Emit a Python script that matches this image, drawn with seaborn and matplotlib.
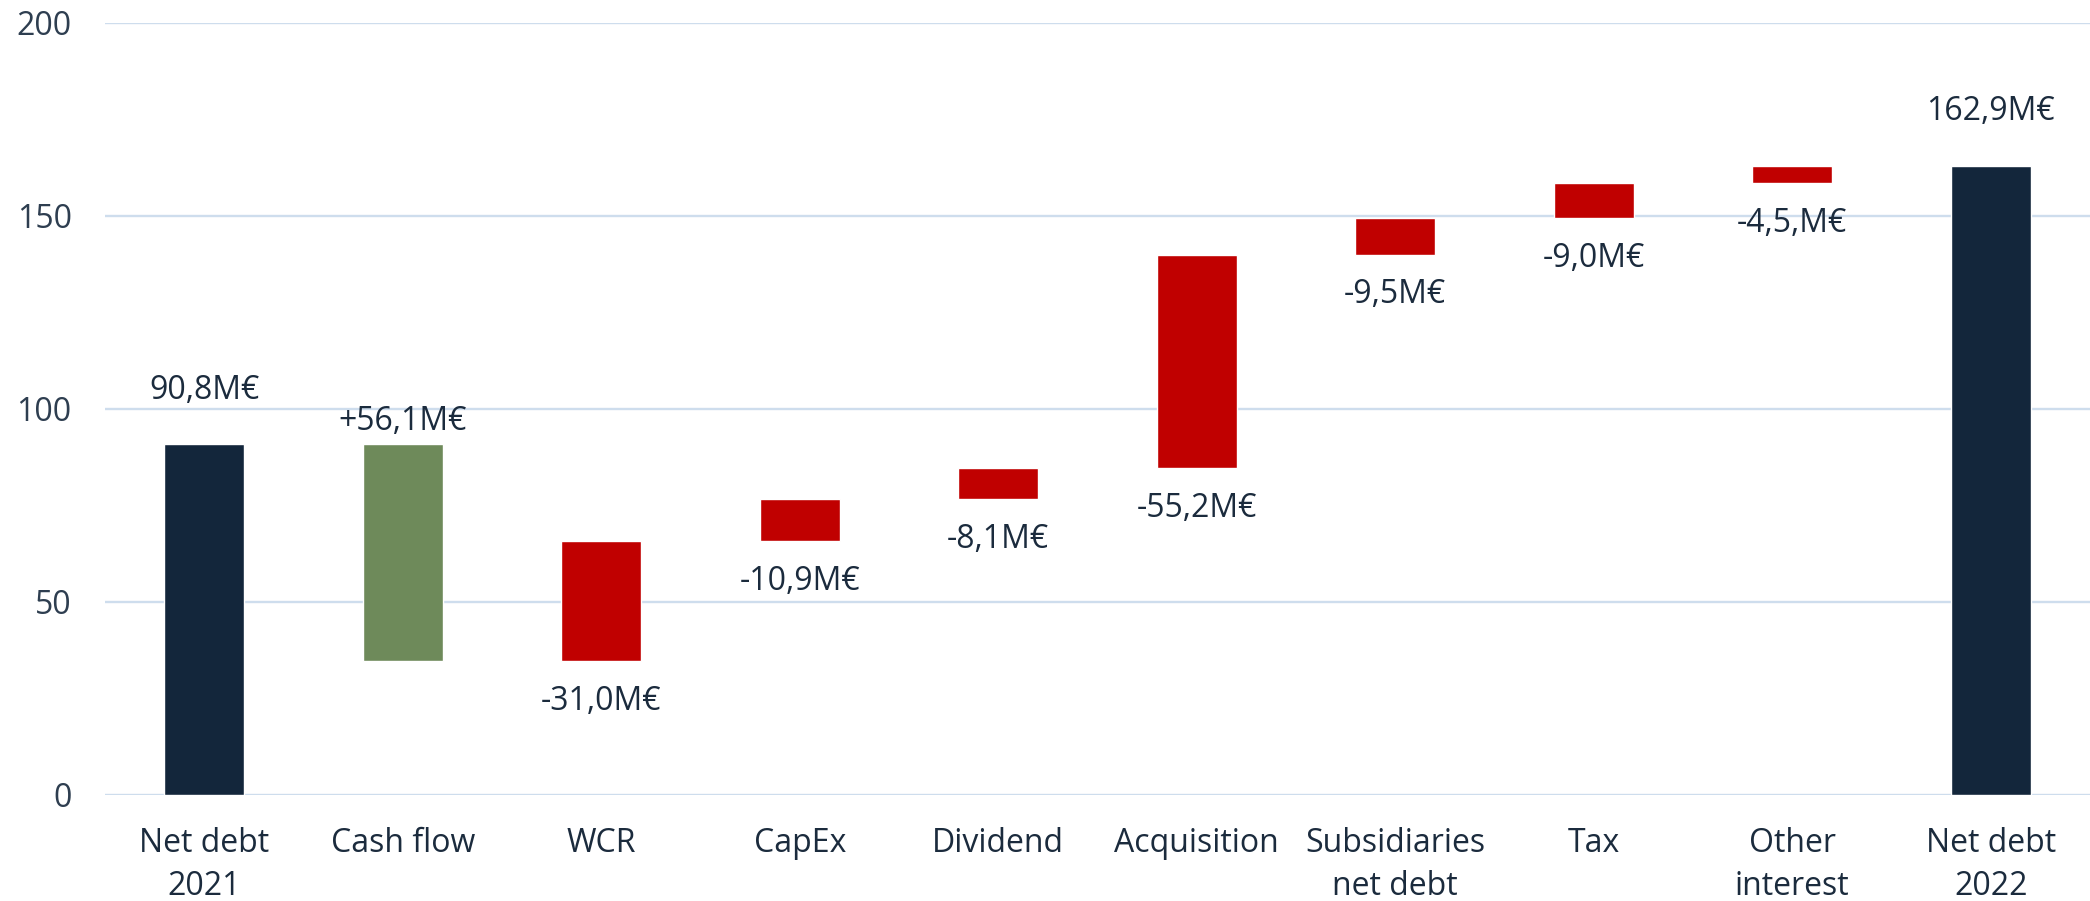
import matplotlib
matplotlib.use("Agg")
import matplotlib.pyplot as plt
import seaborn as sns
import numpy as np

categories = ["Net debt\n2021", "Cash flow", "WCR", "CapEx", "Dividend", "Acquisition",
              "Subsidiaries\nnet debt", "Tax", "Other\ninterest", "Net debt\n2022"]
# change in net debt for each step (totals for first/last)
values = [90.8, -56.1, 31.0, 10.9, 8.1, 55.2, 9.5, 9.0, 4.5, 162.9]
labels = ["90,8M€", "+56,1M€", "-31,0M€", "-10,9M€", "-8,1M€", "-55,2M€",
          "-9,5M€", "-9,0M€", "-4,5,M€", "162,9M€"]
kinds = ["total", "up", "down", "down", "down", "down", "down", "down", "down", "total"]
yticks = [0, 50, 100, 150, 200]

NAVY = "#13263B"
GREEN = "#6E8A5A"
RED = "#C00000"
TEXT = "#1B2B3D"
GRID = "#CEDDED"
color_map = {"total": NAVY, "up": GREEN, "down": RED}

# waterfall geometry computed from values
bottoms, spans = [], []
level = 0.0
for v, k in zip(values, kinds):
    if k == "total":
        bottoms.append(0.0)
        spans.append(v)
        level = v
    else:
        new = level + v
        bottoms.append(min(level, new))
        spans.append(abs(v))
        level = new

sns.set_theme(style="white")
plt.rcParams["font.family"] = ["Open Sans", "DejaVu Sans"]

fig = plt.figure(figsize=(20.9, 9.01), dpi=100)
ax = fig.add_axes([105 / 2090, 1 - 794.7 / 901, 1 - 105 / 2090, (794.7 - 22.7) / 901])

palette = [color_map[k] for k in kinds]
sns.barplot(x=categories, y=spans, hue=categories, palette=palette, legend=False,
            width=0.404, saturation=1, ax=ax, order=categories, hue_order=categories, zorder=3)

for patch, b in zip(ax.patches, bottoms):
    patch.set_y(b)

ax.set_ylim(0, 200)
ax.set_xlim(-0.5, len(categories) - 0.5)
ax.set_yticks(yticks)
ax.set_yticklabels([str(t) for t in yticks])
for s in ax.spines.values():
    s.set_visible(False)
ax.grid(False)
for t in yticks:
    ax.axhline(t, color=GRID, lw=1.7, zorder=1)

ax.tick_params(axis="y", length=0, pad=24, labelsize=23, labelcolor="#2E3E50")
ax.tick_params(axis="x", length=0, pad=23, labelsize=23, labelcolor=TEXT)
for lab in ax.get_xticklabels():
    lab.set_linespacing(1.4)
ax.set_xlabel("")
ax.set_ylabel("")

for i, (b, s, k, lab) in enumerate(zip(bottoms, spans, kinds, labels)):
    if k == "total":
        ax.annotate(lab, (i, b + s), xytext=(0, 39), textcoords="offset points",
                    ha="center", va="center", fontsize=23, color=TEXT)
    elif k == "up":
        ax.annotate(lab, (i, b + s), xytext=(0, 16), textcoords="offset points",
                    ha="center", va="center", fontsize=23, color=TEXT)
    else:
        ax.annotate(lab, (i, b), xytext=(0, -29), textcoords="offset points",
                    ha="center", va="center", fontsize=23, color=TEXT)

fig.savefig("out.png", dpi=100, facecolor="white")
